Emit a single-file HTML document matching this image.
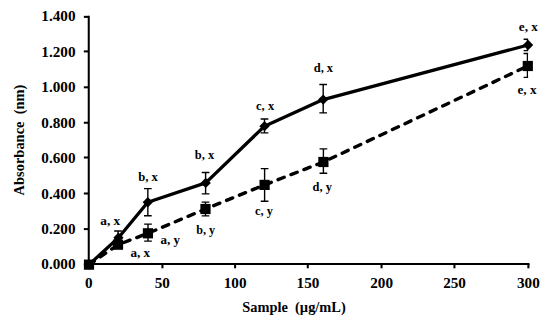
<!DOCTYPE html>
<html><head><meta charset="utf-8"><title>chart</title>
<style>
html,body{margin:0;padding:0;background:#fff;}
body{width:550px;height:319px;overflow:hidden;}
svg{display:block;}
text{font-family:"Liberation Serif",serif;font-weight:bold;fill:#000;}
.t{font-size:15px;}
.k{font-size:15.2px;}
.l{font-size:13px;}
</style></head><body>
<svg width="550" height="319" viewBox="0 0 550 319">
<rect width="550" height="319" fill="#fff"/>
<g stroke="#000" stroke-width="2.05" fill="none">
<path d="M88.75 15.75V265.10"/>
<path d="M87.65 264.00H529.50"/>
<path d="M83.85 264.50H88.75"/>
<path d="M83.85 229.10H88.75"/>
<path d="M83.85 193.50H88.75"/>
<path d="M83.85 157.50H88.75"/>
<path d="M83.85 122.75H88.75"/>
<path d="M83.85 87.30H88.75"/>
<path d="M83.85 51.40H88.75"/>
<path d="M83.85 16.85H88.75"/>
<path d="M88.75 264.00V268.30"/>
<path d="M162.43 264.00V268.30"/>
<path d="M235.10 264.00V268.30"/>
<path d="M307.78 264.00V268.30"/>
<path d="M381.55 264.00V268.30"/>
<path d="M454.43 264.00V268.30"/>
<path d="M528.40 264.00V268.30"/>
</g>
<clipPath id="c"><rect x="88.75" y="16.85" width="439.40" height="247.15"/></clipPath>
<g stroke="#000" stroke-width="1.4" fill="none" clip-path="url(#c)">
<path d="M118.00 231.00V244.50M114.15 231.00h7.7M114.15 244.50h7.7"/>
<path d="M147.85 188.60V215.80M144.00 188.60h7.7M144.00 215.80h7.7"/>
<path d="M205.60 172.50V193.90M201.75 172.50h7.7M201.75 193.90h7.7"/>
<path d="M264.50 119.00V132.90M260.65 119.00h7.7M260.65 132.90h7.7"/>
<path d="M323.20 84.50V112.90M319.35 84.50h7.7M319.35 112.90h7.7"/>
<path d="M527.45 39.20V50.60M523.60 39.20h7.7M523.60 50.60h7.7"/>
<path d="M148.00 224.10V241.10M144.15 224.10h7.7M144.15 241.10h7.7"/>
<path d="M205.50 202.10V215.90M201.65 202.10h7.7M201.65 215.90h7.7"/>
<path d="M264.60 168.60V201.20M260.75 168.60h7.7M260.75 201.20h7.7"/>
<path d="M323.40 148.90V173.30M319.55 148.90h7.7M319.55 173.30h7.7"/>
<path d="M527.45 53.50V77.40M523.60 53.50h7.7M523.60 77.40h7.7"/>
</g>
<polyline points="89.00,264.65 118.00,244.70 147.95,233.30 205.50,209.00 264.60,184.90 323.40,162.00 527.80,66.00" fill="none" stroke="#000" stroke-width="3.4" stroke-linecap="round" stroke-dasharray="6.6 7.28" stroke-dashoffset="0.2" stroke-linejoin="round"/>
<polyline points="89.00,264.65 118.45,237.70 147.80,202.25 205.70,182.90 264.50,126.20 323.20,99.60 528.10,45.00" fill="none" stroke="#000" stroke-width="3.3" stroke-linejoin="round"/>
<rect x="83.90" y="259.55" width="10.2" height="10.2" fill="#000"/>
<rect x="112.90" y="239.60" width="10.2" height="10.2" fill="#000"/>
<rect x="142.85" y="228.20" width="10.2" height="10.2" fill="#000"/>
<rect x="200.40" y="203.90" width="10.2" height="10.2" fill="#000"/>
<rect x="259.50" y="179.80" width="10.2" height="10.2" fill="#000"/>
<rect x="318.30" y="156.90" width="10.2" height="10.2" fill="#000"/>
<rect x="522.70" y="60.90" width="10.2" height="10.2" fill="#000"/>
<path d="M89.00 259.50L94.15 264.65L89.00 269.80L83.85 264.65Z" fill="#000"/>
<path d="M118.45 232.55L123.60 237.70L118.45 242.85L113.30 237.70Z" fill="#000"/>
<path d="M147.80 197.10L152.95 202.25L147.80 207.40L142.65 202.25Z" fill="#000"/>
<path d="M205.70 177.75L210.85 182.90L205.70 188.05L200.55 182.90Z" fill="#000"/>
<path d="M264.50 121.05L269.65 126.20L264.50 131.35L259.35 126.20Z" fill="#000"/>
<path d="M323.20 94.45L328.35 99.60L323.20 104.75L318.05 99.60Z" fill="#000"/>
<path d="M528.10 39.85L533.25 45.00L528.10 50.15L522.95 45.00Z" fill="#000"/>
<text class="k" x="75.5" y="269.40" text-anchor="end">0.000</text>
<text class="k" x="75.5" y="233.80" text-anchor="end">0.200</text>
<text class="k" x="75.5" y="198.70" text-anchor="end">0.400</text>
<text class="k" x="75.5" y="163.30" text-anchor="end">0.600</text>
<text class="k" x="75.5" y="127.50" text-anchor="end">0.800</text>
<text class="k" x="75.5" y="92.20" text-anchor="end">1.000</text>
<text class="k" x="75.5" y="56.85" text-anchor="end">1.200</text>
<text class="k" x="75.5" y="21.05" text-anchor="end">1.400</text>
<text class="k" x="88.75" y="288.1" text-anchor="middle">0</text>
<text class="k" x="162.34" y="288.1" text-anchor="middle">50</text>
<text class="k" x="235.14" y="288.1" text-anchor="middle">100</text>
<text class="k" x="307.94" y="288.1" text-anchor="middle">150</text>
<text class="k" x="381.61" y="288.1" text-anchor="middle">200</text>
<text class="k" x="454.56" y="288.1" text-anchor="middle">250</text>
<text class="k" x="528.40" y="288.1" text-anchor="middle">300</text>
<text class="t" transform="translate(294 311.6) scale(0.96 1)" text-anchor="middle" xml:space="preserve">Sample  (µg/mL)</text>
<text class="t" transform="translate(23.5 140) rotate(-90) scale(0.965 1)" text-anchor="middle" xml:space="preserve">Absorbance  (nm)</text>
<text class="l" transform="translate(110.20 224.60) scale(1.025 1)" text-anchor="middle">a, x</text>
<text class="l" transform="translate(170.30 244.45) scale(1.0 1)" text-anchor="middle">a, y</text>
<text class="l" transform="translate(140.30 256.80) scale(1.01 1)" text-anchor="middle">a, x</text>
<text class="l" transform="translate(148.00 181.10) scale(0.975 1)" text-anchor="middle">b, x</text>
<text class="l" transform="translate(204.50 159.10) scale(0.96 1)" text-anchor="middle">b, x</text>
<text class="l" transform="translate(205.70 234.20) scale(0.935 1)" text-anchor="middle">b, y</text>
<text class="l" transform="translate(263.90 214.75) scale(0.945 1)" text-anchor="middle">c, y</text>
<text class="l" transform="translate(265.10 110.30) scale(0.963 1)" text-anchor="middle">c, x</text>
<text class="l" transform="translate(323.40 72.10) scale(0.96 1)" text-anchor="middle">d, x</text>
<text class="l" transform="translate(322.20 190.60) scale(0.955 1)" text-anchor="middle">d, y</text>
<text class="l" transform="translate(528.30 30.60) scale(1.016 1)" text-anchor="middle">e, x</text>
<text class="l" transform="translate(527.00 94.40) scale(1.016 1)" text-anchor="middle">e, x</text>
</svg>
</body></html>
